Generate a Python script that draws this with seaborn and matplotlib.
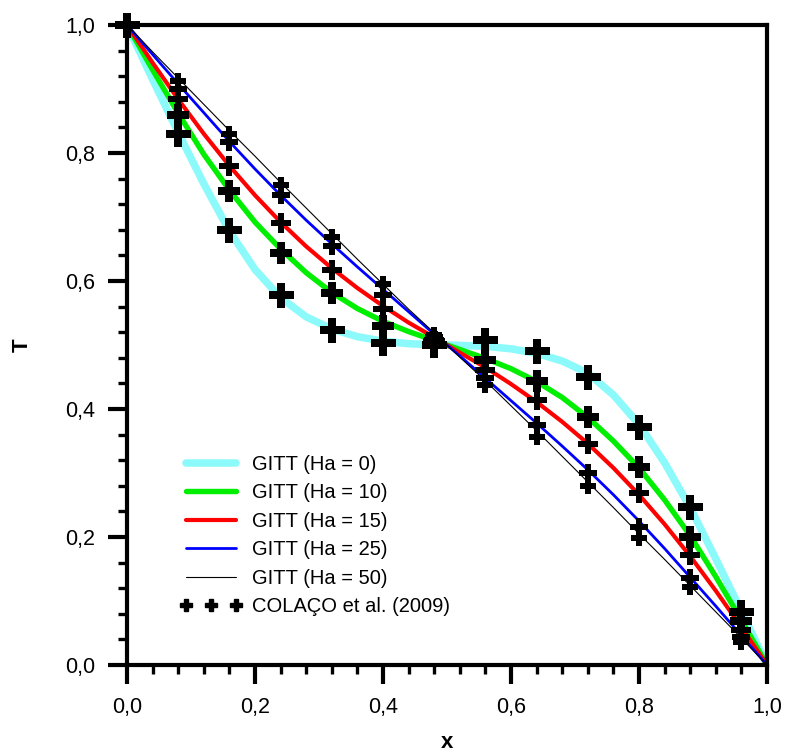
import matplotlib
matplotlib.use("Agg")
import matplotlib.pyplot as plt
import seaborn as sns
import pandas as pd
from matplotlib.lines import Line2D
from matplotlib.ticker import MultipleLocator, FuncFormatter

# ---- data ----
x_curve = [0.00, 0.04, 0.08, 0.12, 0.16, 0.20, 0.24, 0.28, 0.32, 0.36, 0.40, 0.44, 0.48,
           0.52, 0.56, 0.60, 0.64, 0.68, 0.72, 0.76, 0.80, 0.84, 0.88, 0.92, 0.96, 1.00]
t_ha0 = [1.000, 0.915, 0.832, 0.752, 0.678, 0.618, 0.574, 0.544, 0.525, 0.513, 0.506, 0.502, 0.5005,
         0.4995, 0.498, 0.494, 0.487, 0.475, 0.456, 0.422, 0.376, 0.316, 0.246, 0.166, 0.084, 0.000]
t_ha10 = [1.000, 0.930, 0.862, 0.798, 0.742, 0.692, 0.650, 0.613, 0.582, 0.557, 0.537, 0.521, 0.507,
          0.493, 0.479, 0.463, 0.443, 0.418, 0.387, 0.350, 0.308, 0.258, 0.202, 0.138, 0.070, 0.000]
t_ha15 = [1.000, 0.941, 0.884, 0.830, 0.780, 0.734, 0.692, 0.654, 0.620, 0.589, 0.561, 0.535, 0.512,
          0.488, 0.465, 0.439, 0.411, 0.380, 0.346, 0.308, 0.266, 0.220, 0.170, 0.116, 0.059, 0.000]
t_ha25 = [1.000, 0.954, 0.908, 0.863, 0.818, 0.775, 0.734, 0.695, 0.658, 0.622, 0.587, 0.552, 0.517,
          0.483, 0.448, 0.413, 0.378, 0.342, 0.305, 0.266, 0.225, 0.182, 0.137, 0.092, 0.046, 0.000]
t_ha50 = [1.000, 0.958, 0.917, 0.876, 0.835, 0.795, 0.754, 0.714, 0.674, 0.634, 0.595, 0.556, 0.519,
          0.481, 0.444, 0.405, 0.366, 0.326, 0.286, 0.246, 0.205, 0.165, 0.124, 0.083, 0.042, 0.000]

x_ref = [0.00, 0.08, 0.16, 0.24, 0.32, 0.40, 0.48, 0.56, 0.64, 0.72, 0.80, 0.88, 0.96]
r_ha0 = [1.000, 0.830, 0.680, 0.578, 0.523, 0.503, 0.500, 0.508, 0.490, 0.450, 0.372, 0.247, 0.083]
r_ha10 = [1.000, 0.860, 0.740, 0.643, 0.581, 0.530, 0.505, 0.477, 0.443, 0.388, 0.310, 0.200, 0.068]
r_ha15 = [1.000, 0.885, 0.779, 0.690, 0.617, 0.556, 0.508, 0.461, 0.414, 0.346, 0.268, 0.172, 0.055]
r_ha25 = [1.000, 0.900, 0.817, 0.735, 0.655, 0.578, 0.512, 0.448, 0.375, 0.300, 0.216, 0.136, 0.044]
r_ha50 = [1.000, 0.913, 0.830, 0.750, 0.669, 0.595, 0.515, 0.438, 0.357, 0.279, 0.198, 0.122, 0.036]

series_labels = ["GITT (Ha = 0)", "GITT (Ha = 10)", "GITT (Ha = 15)",
                 "GITT (Ha = 25)", "GITT (Ha = 50)"]
ref_label = "COLAÇO et al. (2009)"
x_ticks = [0.0, 0.2, 0.4, 0.6, 0.8, 1.0]

# ---- styles ----
colors = ["#8cfafa", "#00ee00", "#ff0000", "#0000ff", "#000000"]
widths = [5.4, 3.9, 3.0, 2.0, 0.8]
msizes = [18, 16.5, 14.5, 12.5, 11]

sns.set_theme(style="white")
plt.rcParams["font.family"] = ["Liberation Sans", "DejaVu Sans"]
for k in ["text.color", "axes.labelcolor", "xtick.color", "ytick.color", "axes.edgecolor"]:
    plt.rcParams[k] = "black"

curves = [t_ha0, t_ha10, t_ha15, t_ha25, t_ha50]
refs = [r_ha0, r_ha10, r_ha15, r_ha25, r_ha50]

fig = plt.figure(figsize=(7.85, 7.54), dpi=100)
ax = fig.add_axes([127 / 785, 89 / 754, 640 / 785, 640 / 754])

for t, lab, c, w in zip(curves, series_labels, colors, widths):
    df = pd.DataFrame({"x": x_curve, "T": t})
    sns.lineplot(data=df, x="x", y="T", color=c, linewidth=w, ax=ax,
                 sort=False, zorder=2, legend=False)

for r, ms in zip(refs, msizes):
    df = pd.DataFrame({"x": x_ref, "T": r})
    sns.scatterplot(data=df, x="x", y="T", marker="P", s=ms ** 2, color="black",
                    linewidth=0, ax=ax, zorder=3, clip_on=False, legend=False)

ax.set_xlim(0, 1)
ax.set_ylim(0, 1)
ax.set_xticks(x_ticks)
ax.set_yticks(x_ticks)
ax.xaxis.set_minor_locator(MultipleLocator(0.04))
ax.yaxis.set_minor_locator(MultipleLocator(0.04))
fmt = FuncFormatter(lambda v, p: f"{v:.1f}".replace(".", ","))
ax.xaxis.set_major_formatter(fmt)
ax.yaxis.set_major_formatter(fmt)

ax.tick_params(which="major", direction="out", length=14, width=3, pad=9,
               labelsize=15.5, bottom=True, left=True, top=False, right=False)
ax.tick_params(which="minor", direction="out", length=6.5, width=2.4,
               bottom=True, left=True, top=False, right=False)
for sp in ax.spines.values():
    sp.set_linewidth(3)
    sp.set_color("black")

ax.set_xlabel("x", fontsize=16, fontweight="bold")
ax.set_ylabel("T", fontsize=16, fontweight="bold")
ax.xaxis.label.set_va("center")
ax.yaxis.label.set_va("center")
ax.xaxis.set_label_coords(0.5, (665 - 742) / 640)
ax.yaxis.set_label_coords((22 - 127) / 640, 0.5)

handles = [Line2D([], [], color=c, linewidth=w) for c, w in zip(colors, widths)]
handles.append(Line2D([], [], color="black", marker="P", markersize=8, linestyle="none"))
ax.legend(handles, series_labels + [ref_label], loc="upper left",
          bbox_to_anchor=((180 - 127) / 640, (665 - 455) / 640),
          frameon=False, fontsize=14.5, handlelength=3.1, handletextpad=0.5,
          labelspacing=0.47, numpoints=3, borderpad=0, borderaxespad=0)

fig.savefig("out.png", dpi=100)
